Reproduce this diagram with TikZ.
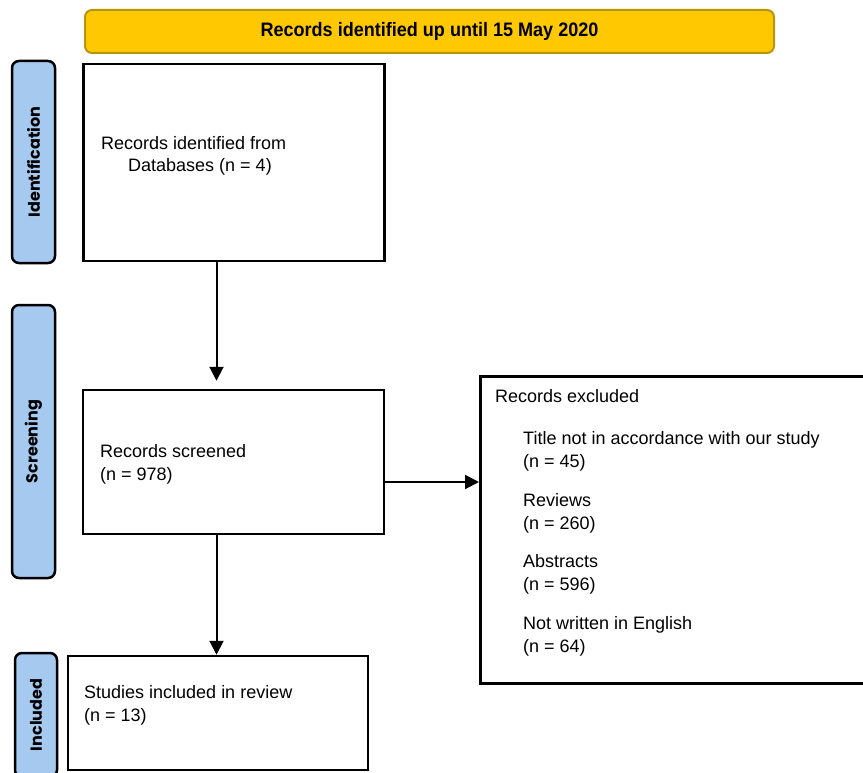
\documentclass[tikz,border=0pt]{standalone}
\usepackage{fontspec}
\setmainfont{Liberation Sans}
\newfontfamily\titlefont[FakeStretch=0.925]{Liberation Sans}
\newfontfamily\labelfont{Poppins}
\usetikzlibrary{arrows.meta}
\definecolor{bandyellow}{HTML}{FFC800}
\definecolor{bandedge}{HTML}{B8960C}
\definecolor{phaseblue}{HTML}{A6C9F0}
\begin{document}
\begin{tikzpicture}[x=1pt,y=-1pt,
  box/.style={draw, line width=2.5pt, inner sep=0pt},
  phase/.style={draw, line width=2.5pt, fill=phaseblue, rounded corners=7pt, rotate=90,
    inner sep=0pt, font=\labelfont\bfseries\fontsize{16}{18}\selectfont},
  txt/.style={inner sep=0pt, anchor=base west, align=left, font=\fontsize{18}{22.5}\selectfont},
  arr/.style={line width=2pt, -{Triangle[width=14pt,length=14pt]}}]
\useasboundingbox (0,0) rectangle (863,773);

% title band
\node[draw=bandedge, line width=2pt, fill=bandyellow, rounded corners=7pt,
      minimum width=689pt, minimum height=43pt, inner sep=0pt,
      font=\titlefont\bfseries\fontsize{19.5}{22}\selectfont] (band) at (429.5,31.5)
      {Records identified up until 15 May 2020};

% phase labels
\node[phase, minimum width=202pt, minimum height=43pt] (pid) at (33.5,162) {Identification};
\node[phase, minimum width=273pt, minimum height=43pt] (pscr) at (33.5,441.5) {Screening};
\node[phase, minimum width=124pt, minimum height=42pt] (pinc) at (36,715) {Included};

% boxes
\node[box, minimum width=301pt, minimum height=197pt] (b1) at (234,162.5) {};
\node[box, minimum width=301pt, minimum height=144pt] (b2) at (233.5,462) {};
\node[box, anchor=north west, minimum width=430pt, minimum height=307pt] (b3) at (479,375) {};
\node[box, minimum width=300pt, minimum height=114pt] (b4) at (218,713) {};

% texts (base = baseline of last line)
\node[txt] (t1) at (101,172) {Records identified from\\\hspace*{27pt}Databases (n = 4)};
\node[txt] (t2) at (100,480) {Records screened\\(n = 978)};
\node[txt] (t4) at (84,721) {Studies included in review\\(n = 13)};
\node[txt] (t3) at (495,402) {Records excluded};
\node[txt] (t3a) at (523,467) {Title not in accordance with our study\\(n = 45)};
\node[txt] (t3b) at (523,529) {Reviews\\(n = 260)};
\node[txt] (t3c) at (523,590) {Abstracts\\(n = 596)};
\node[txt] (t3d) at (523,652) {Not written in English\\(n = 64)};

% connectors
\coordinate (ax) at (216.5,0);
\coordinate (ay) at (0,482);
\draw[arr, shorten >=8pt] (b1.south -| ax) -- (b2.north -| ax);
\draw[arr] (b2.east |- ay) -- (b3.west |- ay);
\draw[arr] (b2.south -| ax) -- (b4.north -| ax);
\end{tikzpicture}
\end{document}
